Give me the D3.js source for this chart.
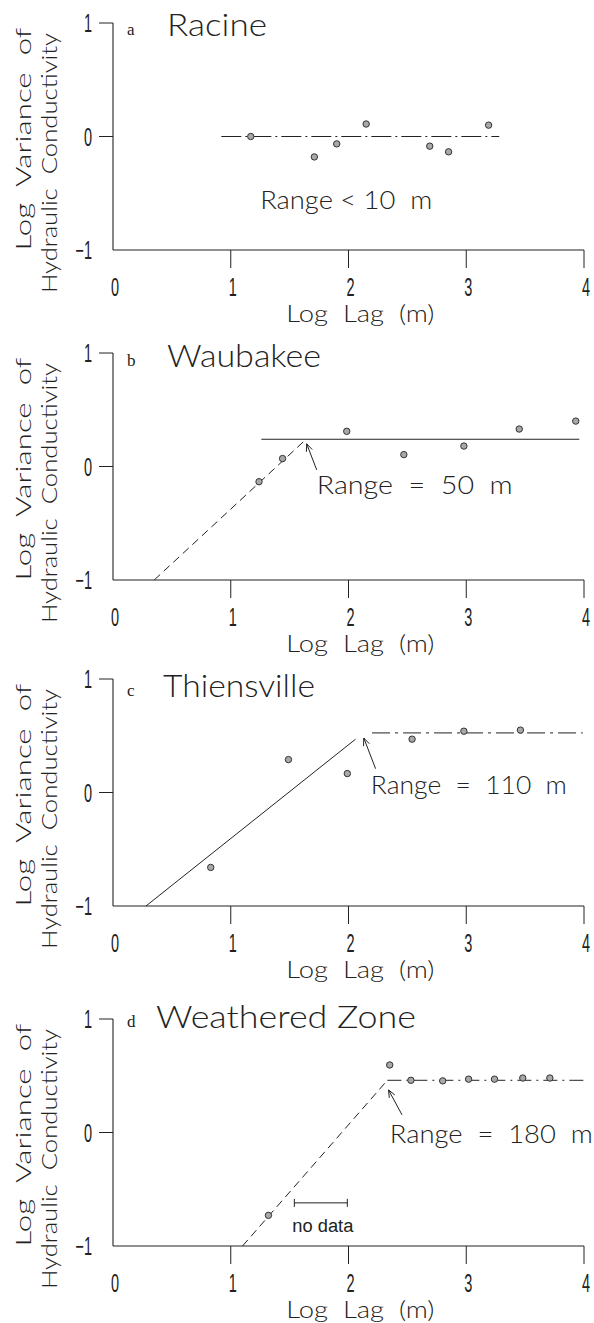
<!DOCTYPE html>
<html><head><meta charset="utf-8">
<script src="https://cdn.jsdelivr.net/npm/d3@7"></script>
<style>
body{margin:0;background:#fff;}
svg text{white-space:pre;}
</style></head>
<body><svg id="chart" width="594" height="1323"></svg>
<script>
// ---------- data ----------
const xTicks = [0, 1, 2, 3, 4];
const yTicks = [-1, 0, 1];
const xTickLabels = ["0", "1", "2", "3", "4"];
const yTickLabels = ["\u22121", "0", "1"];
const panelLetters = ["a", "b", "c", "d"];
const panelNames = ["Racine", "Waubakee", "Thiensville", "Weathered Zone"];
const rangeLabels = ["Range < 10  m", "Range  =  50  m", "Range  =  110  m", "Range  =  180  m"];

const racineLag = [1.17, 1.71, 1.90, 2.15, 2.69, 2.85, 3.19];
const racineVar = [0.0, -0.18, -0.065, 0.11, -0.085, -0.135, 0.10];
const racineFit = [[0.92, 0], [3.28, 0]];

const waubakeeLag = [1.24, 1.44, 1.985, 2.47, 2.98, 3.45, 3.93];
const waubakeeVar = [-0.134, 0.07, 0.31, 0.105, 0.18, 0.33, 0.40];
const waubakeeSlope = [[0.35, -1], [1.64, 0.24]];
const waubakeeSill = [[1.26, 0.24], [3.96, 0.24]];

const thiensvilleLag = [0.83, 1.49, 1.99, 2.54, 2.98, 3.46];
const thiensvilleVar = [-0.66, 0.29, 0.167, 0.47, 0.54, 0.55];
const thiensvilleSlope = [[0.28, -1], [2.06, 0.47]];
const thiensvilleSill = [[2.2, 0.525], [3.99, 0.525]];

const weatheredLag = [1.32, 2.35, 2.53, 2.80, 3.02, 3.24, 3.48, 3.71];
const weatheredVar = [-0.73, 0.595, 0.46, 0.455, 0.47, 0.47, 0.48, 0.48];
const weatheredSlope = [[1.10, -1], [2.33, 0.46]];
const weatheredSill = [[2.33, 0.46], [4.0, 0.46]];
const noDataSpan = [1.54, 1.99];
const noDataLabel = "no data";

// ---------- layout / style ----------
const axisLeft = 113, axisRight = 584;
const panelTop = [23, 353, 679, 1019];
const panelH = 227;
const titleDy = [13, 14, 18, 9];
const titleX = [167, 167, 163, 156];
const titleLen = [100, 154, 152, 260];
// annotation anchors in data coords
const rangePos = [[1.25, -0.64], [1.73, -0.24], [2.19, -0.01], [2.35, -0.094]];
const rangeLen = [172, 196, 196, 203];
const arrows = [null, [[1.73, -0.03], [1.645, 0.20]], [[2.23, 0.21], [2.13, 0.48]], [[2.455, 0.155], [2.34, 0.375]]];

const panels = [
  {lag: racineLag, v: racineVar, lines: [{pts: racineFit, dash: "20,4,2,4"}]},
  {lag: waubakeeLag, v: waubakeeVar, lines: [{pts: waubakeeSlope, dash: "8,5"}, {pts: waubakeeSill, dash: null}]},
  {lag: thiensvilleLag, v: thiensvilleVar, lines: [{pts: thiensvilleSlope, dash: null}, {pts: thiensvilleSill, dash: "18,5,3,5"}]},
  {lag: weatheredLag, v: weatheredVar, lines: [{pts: weatheredSlope, dash: "8,5"}, {pts: weatheredSill, dash: "14,5,2,5"}]}
];

const svg = d3.select("#chart");
const ink = "#222";
const x = d3.scaleLinear().domain([0, 4]).range([axisLeft, axisRight]);

panels.forEach((p, i) => {
  const top = panelTop[i];
  const y = d3.scaleLinear().domain([-1, 1]).range([top + panelH, top]);
  const g = svg.append("g");

  // axes lines
  g.append("line").attr("x1", x(0)).attr("x2", x(0)).attr("y1", y(1)).attr("y2", y(-1))
    .attr("stroke", ink).attr("stroke-width", 1.1);
  g.append("line").attr("x1", x(0)).attr("x2", x(4)).attr("y1", y(-1)).attr("y2", y(-1))
    .attr("stroke", ink).attr("stroke-width", 1.1);
  // y ticks (outward left), none at -1
  yTicks.filter(t => t !== -1).forEach(t => {
    g.append("line").attr("x1", x(0) - 14).attr("x2", x(0)).attr("y1", y(t)).attr("y2", y(t))
      .attr("stroke", ink).attr("stroke-width", 1);
  });
  // x ticks (downward), none at 0
  xTicks.filter(t => t !== 0).forEach(t => {
    g.append("line").attr("x1", x(t)).attr("x2", x(t)).attr("y1", y(-1)).attr("y2", y(-1) + 18)
      .attr("stroke", ink).attr("stroke-width", 1);
  });
  // tick labels (condensed)
  xTicks.forEach((t, k) => {
    g.append("g").attr("transform", `translate(${x(t) + 2},${y(-1) + 46})`)
      .append("text").attr("transform", "scale(0.58,1)")
      .attr("text-anchor", "middle").attr("font-family", "Liberation Sans, Arial, sans-serif")
      .attr("font-size", 25).attr("fill", ink).text(xTickLabels[k]);
  });
  yTicks.forEach((t, k) => {
    g.append("g").attr("transform", `translate(${x(0) - 21},${y(t) + 9})`)
      .append("text").attr("transform", "scale(0.58,1)")
      .attr("text-anchor", "end").attr("font-family", "Liberation Sans, Arial, sans-serif")
      .attr("font-size", 25).attr("fill", ink).text(yTickLabels[k]);
  });

  // axis titles
  g.append("text").attr("x", x(2.1)).attr("y", y(-1) + 72).attr("text-anchor", "middle")
    .attr("font-family", "Lato, 'Open Sans', sans-serif").attr("font-weight", 300)
    .attr("font-size", 23).attr("fill", ink)
    .attr("textLength", 148).attr("lengthAdjust", "spacingAndGlyphs").text("Log  Lag  (m)");
  g.append("text").attr("transform", `translate(31,${top + 116}) rotate(-90)`).attr("text-anchor", "middle")
    .attr("font-family", "Lato, 'Open Sans', sans-serif").attr("font-weight", 300)
    .attr("font-size", 22).attr("fill", ink)
    .attr("textLength", 223).attr("lengthAdjust", "spacingAndGlyphs").text("Log  Variance  of");
  g.append("text").attr("transform", `translate(57,${top + 140}) rotate(-90)`).attr("text-anchor", "middle")
    .attr("font-family", "Lato, 'Open Sans', sans-serif").attr("font-weight", 300)
    .attr("font-size", 22).attr("fill", ink)
    .attr("textLength", 260).attr("lengthAdjust", "spacingAndGlyphs").text("Hydraulic  Conductivity");

  // panel title
  g.append("text").attr("x", 127).attr("y", top + titleDy[i] - 1).attr("font-family", "Liberation Serif, 'Times New Roman', serif")
    .attr("font-size", 17).attr("fill", ink).text(panelLetters[i]);
  g.append("text").attr("x", titleX[i]).attr("y", top + titleDy[i]).attr("font-family", "Lato, 'Open Sans', sans-serif")
    .attr("font-weight", 300).attr("font-size", 31).attr("fill", ink)
    .attr("textLength", titleLen[i]).attr("lengthAdjust", "spacingAndGlyphs").text(panelNames[i]);

  // fit lines
  const line = d3.line().x(d => x(d[0])).y(d => y(d[1]));
  p.lines.forEach(l => {
    g.append("path").attr("d", line(l.pts)).attr("fill", "none").attr("stroke", ink)
      .attr("stroke-width", 1).attr("stroke-dasharray", l.dash);
  });

  // points
  g.selectAll("circle.pt").data(p.lag.map((d, k) => [d, p.v[k]])).join("circle")
    .attr("class", "pt").attr("cx", d => x(d[0])).attr("cy", d => y(d[1])).attr("r", 3.2)
    .attr("fill", "#a8a8a8").attr("stroke", "#333").attr("stroke-width", 1);

  // arrow
  if (arrows[i]) {
    const [tail, tip] = arrows[i];
    const x0 = x(tail[0]), y0 = y(tail[1]), x1 = x(tip[0]), y1 = y(tip[1]);
    g.append("line").attr("x1", x0).attr("y1", y0).attr("x2", x1).attr("y2", y1)
      .attr("stroke", ink).attr("stroke-width", 1);
    const ang = Math.atan2(y1 - y0, x1 - x0), hl = 8, ha = 0.4;
    const p1 = [x1 - hl * Math.cos(ang - ha), y1 - hl * Math.sin(ang - ha)];
    const p2 = [x1 - hl * Math.cos(ang + ha), y1 - hl * Math.sin(ang + ha)];
    g.append("path").attr("d", `M${p1}L${x1},${y1}L${p2}`).attr("fill", "none")
      .attr("stroke", ink).attr("stroke-width", 1);
  }

  // range label
  g.append("text").attr("x", x(rangePos[i][0])).attr("y", y(rangePos[i][1]))
    .attr("font-family", "Lato, 'Open Sans', sans-serif").attr("font-weight", 300)
    .attr("font-size", 25).attr("fill", ink)
    .attr("textLength", rangeLen[i]).attr("lengthAdjust", "spacingAndGlyphs").text(rangeLabels[i]);

  // no data bar (panel d)
  if (i === 3) {
    const yb = y(-0.62);
    g.append("line").attr("x1", x(noDataSpan[0])).attr("x2", x(noDataSpan[1])).attr("y1", yb).attr("y2", yb)
      .attr("stroke", ink).attr("stroke-width", 1);
    noDataSpan.forEach(s => g.append("line").attr("x1", x(s)).attr("x2", x(s)).attr("y1", yb - 4).attr("y2", yb + 4)
      .attr("stroke", ink).attr("stroke-width", 1));
    g.append("text").attr("x", x((noDataSpan[0] + noDataSpan[1]) / 2) + 2).attr("y", y(-0.88))
      .attr("text-anchor", "middle")
      .attr("font-family", "Liberation Sans, Arial, sans-serif").attr("font-size", 18).attr("fill", ink)
      .attr("textLength", 61).attr("lengthAdjust", "spacingAndGlyphs").text(noDataLabel);
  }
});
</script></body></html>
